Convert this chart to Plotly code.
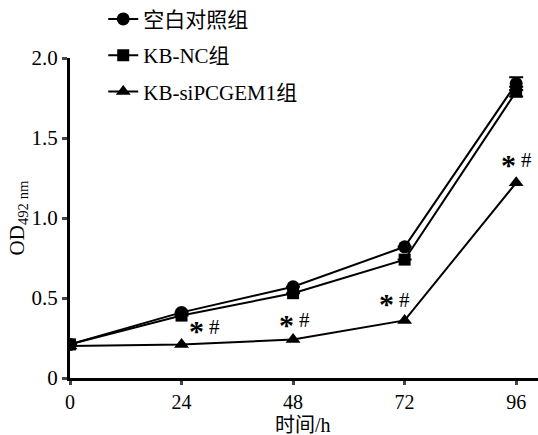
import plotly.graph_objects as go

hours = [0, 24, 48, 72, 96]
blank = [0.21, 0.41, 0.57, 0.82, 1.84]
blank_err = [0, 0, 0, 0, 0.04]
nc = [0.21, 0.39, 0.53, 0.74, 1.79]
nc_err = [0, 0, 0, 0, 0.03]
si = [0.20, 0.21, 0.24, 0.36, 1.22]
names = ["空白对照组", "KB-NC组", "KB-siPCGEM1组"]
x_ticks = [0, 24, 48, 72, 96]
y_ticks = [0, 0.5, 1.0, 1.5, 2.0]
y_ticktext = ["0", "0.5", "1.0", "1.5", "2.0"]
sig_x = [29.0, 48.3, 69.8, 96.0]
sig_y = [0.32, 0.36, 0.49, 1.36]

serif = "Liberation Serif, Noto Sans CJK SC"

fig = go.Figure()
fig.add_trace(go.Scatter(x=hours, y=blank, name=names[0], mode="lines+markers",
                         line=dict(color="black", width=2),
                         marker=dict(symbol="circle", size=13, color="black"),
                         error_y=dict(type="data", array=blank_err, visible=True,
                                      color="black", thickness=2, width=7),
                         legendgroup="a"))
fig.add_trace(go.Scatter(x=hours, y=nc, name=names[1], mode="lines+markers",
                         line=dict(color="black", width=2),
                         marker=dict(symbol="square", size=12, color="black"),
                         error_y=dict(type="data", array=nc_err, visible=True,
                                      color="black", thickness=2, width=7),
                         legendgroup="b"))
fig.add_trace(go.Scatter(x=hours, y=si, name=names[2], mode="lines+markers",
                         line=dict(color="black", width=2),
                         marker=dict(symbol="triangle-up", size=13, color="black"),
                         legendgroup="c"))

for xs, ys in zip(sig_x, sig_y):
    fig.add_annotation(x=xs, y=ys, xref="x", yref="y", showarrow=False,
                       text="<b>*</b>", xshift=-8, yshift=-4,
                       font=dict(family=serif, size=30, color="black"))
    fig.add_annotation(x=xs, y=ys, xref="x", yref="y", showarrow=False,
                       text="#", xshift=10,
                       font=dict(family=serif, size=21, color="black"))

fig.add_annotation(x=0.498, y=-0.148, xref="paper", yref="paper", showarrow=False,
                   xanchor="center", yanchor="middle",
                   text="时间/h", font=dict(family=serif, size=20, color="black"))

fig.update_layout(
    width=538, height=435,
    margin=dict(l=70, r=0, t=58, b=57, autoexpand=False),
    paper_bgcolor="white", plot_bgcolor="white",
    font=dict(family=serif, size=21, color="black"),
    showlegend=True,
    legend=dict(x=0.071, y=1.185, xanchor="left", yanchor="top",
                font=dict(family=serif, size=21, color="black"),
                bgcolor="rgba(0,0,0,0)", traceorder="grouped", tracegroupgap=6),
    xaxis=dict(range=[0, 100.7], tickvals=x_ticks, ticks="outside", ticklen=4,
               tickwidth=3, showline=True, linewidth=3, linecolor="black",
               showgrid=False, zeroline=False, tickfont=dict(size=20)),
    yaxis=dict(range=[0, 2.0], tickvals=y_ticks, ticktext=y_ticktext, ticks="outside",
               ticklen=5, tickwidth=3, showline=True, linewidth=3, linecolor="black",
               showgrid=False, zeroline=False, tickfont=dict(size=21),
               title=dict(text="OD<sub>492 nm</sub>", font=dict(family=serif, size=21),
                          standoff=2)),
)

fig.write_html("out.html", config={"displayModeBar": False},
               post_script="document.body.style.margin='0px';")
